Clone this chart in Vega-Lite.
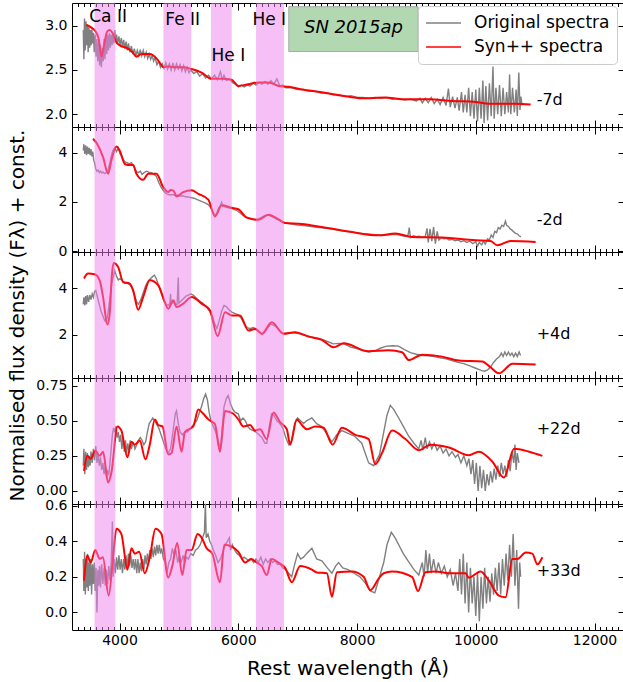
{
"$schema": "https://vega.github.io/schema/vega-lite/v6.json",
"padding": {"left": 6, "top": 2, "right": 1, "bottom": 0},
"background": "white",
"spacing": 0,
"bounds": "flush",
"config": {"font": "DejaVu Sans", "view": {"stroke": "black", "strokeWidth": 1},
  "axis": {"domain": false, "grid": false, "tickColor": "black", "labelColor": "black", "labelFontSize": 14, "labelFont": "DejaVu Sans", "titleFont": "DejaVu Sans", "titleFontWeight": "normal", "titleColor": "black", "titleFontSize": 20, "labelOverlap": false, "labelBound": false, "labelFlush": false}},
"resolve": {"scale": {"color": "independent"}, "legend": {"color": "independent"}},
"datasets": {
"bands": [{"a":3580,"b":3930},{"a":4740,"b":5210},{"a":5540,"b":5890},{"a":6300,"b":6770}],
"o1": [{"w":3390,"f":2.95},{"w":3400,"f":2.62},{"w":3410,"f":3.08},{"w":3422,"f":2.72},{"w":3435,"f":3.05},{"w":3448,"f":2.78},{"w":3460,"f":3.0},{"w":3472,"f":2.7},{"w":3485,"f":2.98},{"w":3498,"f":2.75},{"w":3510,"f":2.95},{"w":3522,"f":2.78},{"w":3535,"f":2.96},{"w":3548,"f":2.8},{"w":3560,"f":2.92},{"w":3575,"f":2.7},{"w":3590,"f":2.9},{"w":3605,"f":2.65},{"w":3620,"f":2.85},{"w":3635,"f":2.6},{"w":3650,"f":2.82},{"w":3665,"f":2.55},{"w":3680,"f":2.78},{"w":3695,"f":2.53},{"w":3710,"f":2.75},{"w":3725,"f":2.6},{"w":3740,"f":2.85},{"w":3755,"f":2.62},{"w":3770,"f":2.88},{"w":3785,"f":2.68},{"w":3800,"f":2.9},{"w":3815,"f":2.72},{"w":3830,"f":2.92},{"w":3845,"f":2.75},{"w":3860,"f":2.9},{"w":3875,"f":2.78},{"w":3890,"f":2.92},{"w":3905,"f":2.8},{"w":3920,"f":2.95},{"w":3935,"f":2.82},{"w":3950,"f":2.9},{"w":3970,"f":2.8},{"w":3990,"f":2.88},{"w":4010,"f":2.78},{"w":4030,"f":2.86},{"w":4050,"f":2.76},{"w":4070,"f":2.84},{"w":4090,"f":2.74},{"w":4110,"f":2.82},{"w":4130,"f":2.72},{"w":4150,"f":2.8},{"w":4175,"f":2.7},{"w":4200,"f":2.77},{"w":4225,"f":2.68},{"w":4250,"f":2.74},{"w":4275,"f":2.66},{"w":4300,"f":2.72},{"w":4325,"f":2.66},{"w":4350,"f":2.73},{"w":4375,"f":2.66},{"w":4400,"f":2.72},{"w":4425,"f":2.65},{"w":4450,"f":2.7},{"w":4475,"f":2.63},{"w":4500,"f":2.68},{"w":4525,"f":2.62},{"w":4550,"f":2.66},{"w":4575,"f":2.6},{"w":4600,"f":2.64},{"w":4630,"f":2.56},{"w":4660,"f":2.6},{"w":4690,"f":2.53},{"w":4720,"f":2.57},{"w":4750,"f":2.52},{"w":4780,"f":2.58},{"w":4810,"f":2.51},{"w":4840,"f":2.57},{"w":4870,"f":2.5},{"w":4900,"f":2.58},{"w":4930,"f":2.5},{"w":4960,"f":2.57},{"w":4990,"f":2.51},{"w":5020,"f":2.56},{"w":5050,"f":2.49},{"w":5080,"f":2.55},{"w":5110,"f":2.48},{"w":5140,"f":2.53},{"w":5170,"f":2.47},{"w":5200,"f":2.5},{"w":5250,"f":2.46},{"w":5300,"f":2.48},{"w":5350,"f":2.43},{"w":5400,"f":2.46},{"w":5450,"f":2.41},{"w":5500,"f":2.44},{"w":5550,"f":2.4},{"w":5600,"f":2.44},{"w":5650,"f":2.39},{"w":5700,"f":2.48},{"w":5730,"f":2.39},{"w":5760,"f":2.44},{"w":5800,"f":2.38},{"w":5850,"f":2.4},{"w":5900,"f":2.36},{"w":5950,"f":2.34},{"w":6000,"f":2.31},{"w":6050,"f":2.33},{"w":6100,"f":2.31},{"w":6150,"f":2.33},{"w":6200,"f":2.32},{"w":6250,"f":2.35},{"w":6300,"f":2.33},{"w":6350,"f":2.36},{"w":6400,"f":2.34},{"w":6450,"f":2.37},{"w":6500,"f":2.34},{"w":6550,"f":2.38},{"w":6600,"f":2.34},{"w":6650,"f":2.4},{"w":6700,"f":2.32},{"w":6750,"f":2.33},{"w":6800,"f":2.3},{"w":6900,"f":2.3},{"w":7000,"f":2.28},{"w":7100,"f":2.28},{"w":7200,"f":2.26},{"w":7300,"f":2.26},{"w":7400,"f":2.24},{"w":7500,"f":2.24},{"w":7600,"f":2.22},{"w":7700,"f":2.22},{"w":7800,"f":2.2},{"w":7900,"f":2.21},{"w":8000,"f":2.19},{"w":8100,"f":2.19},{"w":8200,"f":2.18},{"w":8300,"f":2.19},{"w":8400,"f":2.18},{"w":8500,"f":2.19},{"w":8600,"f":2.17},{"w":8700,"f":2.18},{"w":8800,"f":2.16},{"w":8900,"f":2.17},{"w":9000,"f":2.15},{"w":9060,"f":2.18},{"w":9100,"f":2.13},{"w":9150,"f":2.18},{"w":9200,"f":2.13},{"w":9250,"f":2.19},{"w":9300,"f":2.12},{"w":9350,"f":2.17},{"w":9400,"f":2.11},{"w":9450,"f":2.19},{"w":9500,"f":2.1},{"w":9540,"f":2.29},{"w":9570,"f":2.08},{"w":9610,"f":2.2},{"w":9650,"f":2.07},{"w":9690,"f":2.19},{"w":9720,"f":2.04},{"w":9760,"f":2.25},{"w":9790,"f":2.02},{"w":9820,"f":2.22},{"w":9850,"f":2.02},{"w":9880,"f":2.3},{"w":9910,"f":1.98},{"w":9940,"f":2.25},{"w":9970,"f":1.95},{"w":10000,"f":2.28},{"w":10030,"f":1.92},{"w":10060,"f":2.3},{"w":10090,"f":1.95},{"w":10120,"f":2.38},{"w":10140,"f":1.9},{"w":10170,"f":2.32},{"w":10200,"f":1.93},{"w":10230,"f":2.35},{"w":10260,"f":1.98},{"w":10290,"f":2.54},{"w":10310,"f":1.95},{"w":10340,"f":2.3},{"w":10370,"f":2.0},{"w":10400,"f":2.33},{"w":10430,"f":1.98},{"w":10460,"f":2.3},{"w":10490,"f":2.0},{"w":10520,"f":2.25},{"w":10550,"f":2.02},{"w":10570,"f":2.45},{"w":10590,"f":2.0},{"w":10620,"f":2.3},{"w":10650,"f":2.02},{"w":10680,"f":2.28},{"w":10700,"f":1.98},{"w":10725,"f":2.47},{"w":10745,"f":2.05},{"w":10760,"f":2.2},{"w":10780,"f":2.1}],
"s1": [{"w":3440,"f":3.01},{"w":3520,"f":2.98},{"w":3600,"f":2.93},{"w":3650,"f":2.85},{"w":3697,"f":2.65},{"w":3740,"f":2.78},{"w":3790,"f":2.93},{"w":3835,"f":2.95},{"w":3880,"f":2.92},{"w":3948,"f":2.81},{"w":4000,"f":2.78},{"w":4145,"f":2.74},{"w":4220,"f":2.7},{"w":4285,"f":2.65},{"w":4370,"f":2.68},{"w":4510,"f":2.68},{"w":4623,"f":2.63},{"w":4700,"f":2.56},{"w":4736,"f":2.53},{"w":4820,"f":2.54},{"w":4932,"f":2.53},{"w":5074,"f":2.53},{"w":5214,"f":2.51},{"w":5383,"f":2.47},{"w":5552,"f":2.4},{"w":5720,"f":2.4},{"w":5889,"f":2.39},{"w":5950,"f":2.35},{"w":6002,"f":2.32},{"w":6171,"f":2.34},{"w":6340,"f":2.36},{"w":6509,"f":2.36},{"w":6677,"f":2.32},{"w":6846,"f":2.31},{"w":7071,"f":2.28},{"w":7408,"f":2.25},{"w":7746,"f":2.21},{"w":8083,"f":2.18},{"w":8472,"f":2.19},{"w":8758,"f":2.17},{"w":9209,"f":2.17},{"w":9603,"f":2.15},{"w":9996,"f":2.14},{"w":10222,"f":2.12},{"w":10671,"f":2.12},{"w":10924,"f":2.11}],
"o2": [{"w":3390,"f":4.1},{"w":3400,"f":4.35},{"w":3415,"f":3.95},{"w":3430,"f":4.3},{"w":3445,"f":3.9},{"w":3460,"f":4.25},{"w":3475,"f":3.95},{"w":3490,"f":4.2},{"w":3505,"f":3.9},{"w":3520,"f":4.15},{"w":3535,"f":3.85},{"w":3550,"f":4.05},{"w":3565,"f":3.7},{"w":3580,"f":3.6},{"w":3600,"f":3.35},{"w":3620,"f":3.25},{"w":3640,"f":3.3},{"w":3660,"f":3.2},{"w":3680,"f":3.25},{"w":3700,"f":3.18},{"w":3720,"f":3.22},{"w":3750,"f":3.15},{"w":3780,"f":3.2},{"w":3800,"f":3.25},{"w":3830,"f":3.5},{"w":3860,"f":3.85},{"w":3890,"f":4.1},{"w":3920,"f":4.2},{"w":3950,"f":4.05},{"w":3980,"f":4.2},{"w":4010,"f":3.95},{"w":4040,"f":3.85},{"w":4070,"f":3.7},{"w":4100,"f":3.62},{"w":4130,"f":3.6},{"w":4160,"f":3.55},{"w":4200,"f":3.6},{"w":4230,"f":3.5},{"w":4260,"f":3.35},{"w":4290,"f":3.22},{"w":4320,"f":3.2},{"w":4350,"f":3.25},{"w":4380,"f":3.12},{"w":4420,"f":3.2},{"w":4460,"f":3.25},{"w":4500,"f":3.2},{"w":4540,"f":3.18},{"w":4580,"f":3.12},{"w":4620,"f":3.05},{"w":4660,"f":2.8},{"w":4700,"f":2.6},{"w":4740,"f":2.45},{"w":4780,"f":2.35},{"w":4820,"f":2.3},{"w":4860,"f":2.28},{"w":4900,"f":2.3},{"w":4940,"f":2.25},{"w":4980,"f":2.28},{"w":5020,"f":2.24},{"w":5060,"f":2.25},{"w":5100,"f":2.22},{"w":5150,"f":2.2},{"w":5200,"f":2.18},{"w":5250,"f":2.15},{"w":5300,"f":2.1},{"w":5350,"f":2.05},{"w":5400,"f":2.0},{"w":5450,"f":1.95},{"w":5500,"f":1.88},{"w":5540,"f":1.75},{"w":5580,"f":1.55},{"w":5610,"f":1.45},{"w":5640,"f":1.55},{"w":5670,"f":1.75},{"w":5700,"f":1.85},{"w":5720,"f":1.98},{"w":5740,"f":1.82},{"w":5780,"f":1.8},{"w":5830,"f":1.76},{"w":5880,"f":1.75},{"w":5930,"f":1.7},{"w":5980,"f":1.64},{"w":6030,"f":1.55},{"w":6080,"f":1.45},{"w":6120,"f":1.38},{"w":6170,"f":1.36},{"w":6220,"f":1.32},{"w":6280,"f":1.28},{"w":6330,"f":1.3},{"w":6400,"f":1.38},{"w":6450,"f":1.45},{"w":6500,"f":1.46},{"w":6550,"f":1.42},{"w":6600,"f":1.36},{"w":6650,"f":1.3},{"w":6700,"f":1.24},{"w":6750,"f":1.18},{"w":6800,"f":1.14},{"w":6900,"f":1.1},{"w":7000,"f":1.06},{"w":7100,"f":1.04},{"w":7200,"f":1.01},{"w":7300,"f":0.98},{"w":7400,"f":0.95},{"w":7500,"f":0.92},{"w":7600,"f":0.88},{"w":7700,"f":0.84},{"w":7800,"f":0.8},{"w":7900,"f":0.77},{"w":8000,"f":0.74},{"w":8100,"f":0.71},{"w":8200,"f":0.68},{"w":8300,"f":0.66},{"w":8400,"f":0.64},{"w":8500,"f":0.65},{"w":8600,"f":0.68},{"w":8700,"f":0.66},{"w":8800,"f":0.6},{"w":8860,"f":0.65},{"w":8880,"f":0.95},{"w":8900,"f":0.55},{"w":8950,"f":0.62},{"w":9000,"f":0.58},{"w":9050,"f":0.6},{"w":9100,"f":0.55},{"w":9150,"f":0.6},{"w":9180,"f":0.92},{"w":9200,"f":0.35},{"w":9230,"f":0.9},{"w":9260,"f":0.4},{"w":9290,"f":0.98},{"w":9320,"f":0.3},{"w":9350,"f":0.8},{"w":9380,"f":0.45},{"w":9420,"f":0.55},{"w":9460,"f":0.5},{"w":9500,"f":0.52},{"w":9550,"f":0.45},{"w":9600,"f":0.48},{"w":9650,"f":0.42},{"w":9700,"f":0.45},{"w":9750,"f":0.38},{"w":9800,"f":0.42},{"w":9850,"f":0.35},{"w":9900,"f":0.4},{"w":9950,"f":0.3},{"w":10000,"f":0.38},{"w":10030,"f":0.2},{"w":10060,"f":0.35},{"w":10100,"f":0.25},{"w":10130,"f":0.4},{"w":10160,"f":0.28},{"w":10200,"f":0.5},{"w":10230,"f":0.45},{"w":10260,"f":0.65},{"w":10290,"f":0.55},{"w":10320,"f":0.8},{"w":10350,"f":0.75},{"w":10380,"f":0.95},{"w":10410,"f":0.9},{"w":10440,"f":1.05},{"w":10470,"f":1.0},{"w":10500,"f":1.22},{"w":10520,"f":1.05},{"w":10550,"f":1.0},{"w":10580,"f":0.9},{"w":10610,"f":0.85},{"w":10640,"f":0.78},{"w":10670,"f":0.72},{"w":10700,"f":0.7},{"w":10730,"f":0.62},{"w":10760,"f":0.58}],
"s2": [{"w":3554,"f":4.57},{"w":3639,"f":4.3},{"w":3723,"f":3.82},{"w":3808,"f":3.15},{"w":3863,"f":3.69},{"w":3948,"f":4.26},{"w":4003,"f":4.09},{"w":4088,"f":3.55},{"w":4145,"f":3.5},{"w":4229,"f":3.5},{"w":4285,"f":3.15},{"w":4398,"f":2.9},{"w":4483,"f":3.15},{"w":4623,"f":3.15},{"w":4736,"f":2.6},{"w":4820,"f":2.4},{"w":4860,"f":2.48},{"w":4905,"f":2.47},{"w":4961,"f":2.22},{"w":5074,"f":2.4},{"w":5214,"f":2.47},{"w":5327,"f":2.33},{"w":5496,"f":2.09},{"w":5608,"f":1.41},{"w":5720,"f":1.86},{"w":5889,"f":1.76},{"w":6002,"f":1.7},{"w":6143,"f":1.36},{"w":6340,"f":1.27},{"w":6509,"f":1.48},{"w":6677,"f":1.29},{"w":6790,"f":1.14},{"w":7071,"f":1.1},{"w":7408,"f":0.98},{"w":7915,"f":0.77},{"w":8365,"f":0.64},{"w":8646,"f":0.71},{"w":8927,"f":0.57},{"w":9434,"f":0.55},{"w":9996,"f":0.44},{"w":10249,"f":0.41},{"w":10362,"f":0.23},{"w":10587,"f":0.41},{"w":11009,"f":0.37}],
"o3": [{"w":3390,"f":3.3},{"w":3400,"f":3.6},{"w":3415,"f":3.25},{"w":3430,"f":3.65},{"w":3445,"f":3.3},{"w":3460,"f":3.7},{"w":3480,"f":3.4},{"w":3500,"f":3.7},{"w":3520,"f":3.5},{"w":3540,"f":3.75},{"w":3560,"f":3.6},{"w":3580,"f":3.85},{"w":3600,"f":3.9},{"w":3620,"f":3.7},{"w":3640,"f":3.5},{"w":3660,"f":3.3},{"w":3690,"f":3.0},{"w":3720,"f":2.8},{"w":3750,"f":2.6},{"w":3770,"f":2.55},{"w":3790,"f":2.7},{"w":3810,"f":3.0},{"w":3840,"f":3.6},{"w":3870,"f":4.2},{"w":3900,"f":4.55},{"w":3920,"f":4.75},{"w":3950,"f":4.5},{"w":3980,"f":4.35},{"w":4010,"f":4.4},{"w":4050,"f":4.3},{"w":4090,"f":4.2},{"w":4130,"f":4.2},{"w":4170,"f":4.15},{"w":4210,"f":4.0},{"w":4250,"f":3.7},{"w":4290,"f":3.4},{"w":4320,"f":3.3},{"w":4360,"f":3.5},{"w":4400,"f":3.8},{"w":4440,"f":4.1},{"w":4480,"f":4.3},{"w":4520,"f":4.4},{"w":4560,"f":4.5},{"w":4590,"f":4.55},{"w":4620,"f":4.4},{"w":4660,"f":4.1},{"w":4700,"f":3.8},{"w":4740,"f":3.5},{"w":4780,"f":3.3},{"w":4820,"f":3.25},{"w":4850,"f":3.35},{"w":4860,"f":3.75},{"w":4870,"f":3.3},{"w":4900,"f":3.4},{"w":4940,"f":3.3},{"w":4970,"f":3.3},{"w":4990,"f":4.45},{"w":5000,"f":3.35},{"w":5040,"f":3.45},{"w":5080,"f":3.55},{"w":5120,"f":3.65},{"w":5160,"f":3.7},{"w":5200,"f":3.75},{"w":5240,"f":3.7},{"w":5280,"f":3.6},{"w":5320,"f":3.5},{"w":5360,"f":3.42},{"w":5400,"f":3.35},{"w":5440,"f":3.25},{"w":5480,"f":3.15},{"w":5520,"f":3.0},{"w":5560,"f":2.8},{"w":5600,"f":2.5},{"w":5640,"f":2.25},{"w":5680,"f":2.6},{"w":5720,"f":3.0},{"w":5760,"f":3.25},{"w":5800,"f":3.2},{"w":5850,"f":3.05},{"w":5900,"f":2.95},{"w":5950,"f":2.9},{"w":6000,"f":2.85},{"w":6050,"f":2.7},{"w":6100,"f":2.45},{"w":6150,"f":2.3},{"w":6200,"f":2.25},{"w":6250,"f":2.3},{"w":6300,"f":2.25},{"w":6350,"f":2.15},{"w":6400,"f":2.0},{"w":6450,"f":2.1},{"w":6500,"f":2.3},{"w":6550,"f":2.45},{"w":6600,"f":2.4},{"w":6650,"f":2.3},{"w":6700,"f":2.15},{"w":6750,"f":2.05},{"w":6800,"f":2.05},{"w":6900,"f":2.08},{"w":7000,"f":2.05},{"w":7100,"f":1.98},{"w":7200,"f":1.92},{"w":7300,"f":1.85},{"w":7400,"f":1.8},{"w":7500,"f":1.7},{"w":7600,"f":1.6},{"w":7700,"f":1.62},{"w":7800,"f":1.58},{"w":7900,"f":1.45},{"w":8000,"f":1.4},{"w":8100,"f":1.3},{"w":8200,"f":1.25},{"w":8300,"f":1.3},{"w":8400,"f":1.42},{"w":8500,"f":1.5},{"w":8600,"f":1.52},{"w":8700,"f":1.5},{"w":8800,"f":1.35},{"w":8900,"f":1.22},{"w":9000,"f":1.15},{"w":9100,"f":1.1},{"w":9200,"f":1.08},{"w":9300,"f":1.05},{"w":9400,"f":1.0},{"w":9500,"f":0.95},{"w":9600,"f":0.88},{"w":9700,"f":0.8},{"w":9800,"f":0.75},{"w":9900,"f":0.65},{"w":10000,"f":0.55},{"w":10050,"f":0.5},{"w":10100,"f":0.45},{"w":10150,"f":0.42},{"w":10200,"f":0.48},{"w":10250,"f":0.6},{"w":10300,"f":0.8},{"w":10350,"f":0.95},{"w":10400,"f":1.05},{"w":10430,"f":1.2},{"w":10460,"f":1.05},{"w":10490,"f":1.25},{"w":10520,"f":1.1},{"w":10550,"f":1.25},{"w":10580,"f":1.1},{"w":10610,"f":1.2},{"w":10640,"f":1.05},{"w":10670,"f":1.2},{"w":10700,"f":1.05},{"w":10730,"f":1.25},{"w":10755,"f":1.1}],
"s3": [{"w":3402,"f":4.41},{"w":3470,"f":4.62},{"w":3582,"f":4.59},{"w":3666,"f":4.33},{"w":3723,"f":3.61},{"w":3796,"f":2.43},{"w":3835,"f":2.89},{"w":3870,"f":4.5},{"w":3900,"f":5.08},{"w":3977,"f":4.91},{"w":4061,"f":4.26},{"w":4173,"f":4.19},{"w":4229,"f":3.91},{"w":4314,"f":3.07},{"w":4398,"f":3.61},{"w":4510,"f":4.33},{"w":4652,"f":4.12},{"w":4763,"f":3.4},{"w":4820,"f":3.11},{"w":4905,"f":3.47},{"w":4961,"f":3.18},{"w":5074,"f":3.33},{"w":5214,"f":3.61},{"w":5383,"f":3.33},{"w":5523,"f":3.04},{"w":5653,"f":1.93},{"w":5777,"f":2.96},{"w":5889,"f":2.82},{"w":6029,"f":2.82},{"w":6171,"f":2.17},{"w":6283,"f":2.24},{"w":6396,"f":2.03},{"w":6565,"f":2.53},{"w":6762,"f":2.03},{"w":6958,"f":2.1},{"w":7184,"f":1.91},{"w":7408,"f":1.77},{"w":7606,"f":1.45},{"w":7774,"f":1.62},{"w":8196,"f":1.28},{"w":8533,"f":1.32},{"w":8758,"f":1.24},{"w":8872,"f":0.9},{"w":9096,"f":1.13},{"w":9434,"f":1.05},{"w":9716,"f":0.88},{"w":10109,"f":0.84},{"w":10249,"f":0.59},{"w":10391,"f":0.33},{"w":10616,"f":0.74},{"w":11009,"f":0.71}],
"o4": [{"w":3390,"f":0.18},{"w":3400,"f":0.3},{"w":3415,"f":0.12},{"w":3430,"f":0.28},{"w":3445,"f":0.15},{"w":3460,"f":0.27},{"w":3475,"f":0.17},{"w":3490,"f":0.25},{"w":3505,"f":0.18},{"w":3520,"f":0.28},{"w":3540,"f":0.2},{"w":3560,"f":0.3},{"w":3580,"f":0.22},{"w":3600,"f":0.32},{"w":3620,"f":0.2},{"w":3640,"f":0.26},{"w":3660,"f":0.18},{"w":3680,"f":0.24},{"w":3700,"f":0.15},{"w":3720,"f":0.2},{"w":3740,"f":0.12},{"w":3760,"f":0.18},{"w":3780,"f":0.1},{"w":3800,"f":0.14},{"w":3820,"f":0.12},{"w":3840,"f":0.2},{"w":3860,"f":0.3},{"w":3880,"f":0.4},{"w":3900,"f":0.45},{"w":3920,"f":0.42},{"w":3940,"f":0.46},{"w":3960,"f":0.38},{"w":3980,"f":0.42},{"w":4000,"f":0.35},{"w":4020,"f":0.4},{"w":4040,"f":0.3},{"w":4060,"f":0.38},{"w":4080,"f":0.28},{"w":4100,"f":0.36},{"w":4120,"f":0.27},{"w":4140,"f":0.34},{"w":4160,"f":0.28},{"w":4180,"f":0.36},{"w":4200,"f":0.3},{"w":4230,"f":0.35},{"w":4260,"f":0.3},{"w":4290,"f":0.33},{"w":4320,"f":0.36},{"w":4350,"f":0.38},{"w":4380,"f":0.36},{"w":4410,"f":0.33},{"w":4440,"f":0.35},{"w":4470,"f":0.42},{"w":4500,"f":0.48},{"w":4530,"f":0.5},{"w":4560,"f":0.52},{"w":4590,"f":0.5},{"w":4620,"f":0.48},{"w":4660,"f":0.45},{"w":4700,"f":0.4},{"w":4740,"f":0.35},{"w":4780,"f":0.3},{"w":4820,"f":0.27},{"w":4860,"f":0.3},{"w":4900,"f":0.42},{"w":4940,"f":0.55},{"w":4960,"f":0.57},{"w":4990,"f":0.48},{"w":5020,"f":0.42},{"w":5060,"f":0.4},{"w":5100,"f":0.42},{"w":5140,"f":0.42},{"w":5180,"f":0.44},{"w":5220,"f":0.46},{"w":5260,"f":0.48},{"w":5300,"f":0.5},{"w":5340,"f":0.55},{"w":5380,"f":0.6},{"w":5420,"f":0.66},{"w":5450,"f":0.69},{"w":5480,"f":0.65},{"w":5510,"f":0.56},{"w":5540,"f":0.5},{"w":5580,"f":0.46},{"w":5620,"f":0.42},{"w":5660,"f":0.36},{"w":5700,"f":0.3},{"w":5730,"f":0.45},{"w":5760,"f":0.6},{"w":5800,"f":0.66},{"w":5830,"f":0.68},{"w":5870,"f":0.62},{"w":5910,"f":0.58},{"w":5950,"f":0.56},{"w":6000,"f":0.55},{"w":6040,"f":0.5},{"w":6080,"f":0.52},{"w":6120,"f":0.5},{"w":6160,"f":0.46},{"w":6200,"f":0.44},{"w":6250,"f":0.43},{"w":6300,"f":0.42},{"w":6350,"f":0.4},{"w":6400,"f":0.38},{"w":6450,"f":0.34},{"w":6480,"f":0.34},{"w":6520,"f":0.45},{"w":6560,"f":0.55},{"w":6600,"f":0.54},{"w":6650,"f":0.5},{"w":6700,"f":0.48},{"w":6750,"f":0.45},{"w":6800,"f":0.38},{"w":6850,"f":0.33},{"w":6900,"f":0.36},{"w":6950,"f":0.48},{"w":7000,"f":0.52},{"w":7050,"f":0.5},{"w":7100,"f":0.48},{"w":7150,"f":0.5},{"w":7240,"f":0.52},{"w":7320,"f":0.48},{"w":7408,"f":0.46},{"w":7500,"f":0.4},{"w":7577,"f":0.35},{"w":7660,"f":0.4},{"w":7746,"f":0.43},{"w":7850,"f":0.41},{"w":7960,"f":0.39},{"w":8080,"f":0.34},{"w":8196,"f":0.2},{"w":8280,"f":0.18},{"w":8380,"f":0.26},{"w":8450,"f":0.42},{"w":8505,"f":0.54},{"w":8561,"f":0.61},{"w":8620,"f":0.58},{"w":8702,"f":0.52},{"w":8780,"f":0.46},{"w":8871,"f":0.39},{"w":8960,"f":0.34},{"w":9040,"f":0.3},{"w":9080,"f":0.36},{"w":9110,"f":0.29},{"w":9150,"f":0.38},{"w":9180,"f":0.3},{"w":9220,"f":0.35},{"w":9260,"f":0.3},{"w":9300,"f":0.34},{"w":9350,"f":0.29},{"w":9400,"f":0.32},{"w":9450,"f":0.27},{"w":9500,"f":0.3},{"w":9550,"f":0.25},{"w":9600,"f":0.28},{"w":9659,"f":0.24},{"w":9700,"f":0.26},{"w":9750,"f":0.2},{"w":9800,"f":0.25},{"w":9850,"f":0.18},{"w":9884,"f":0.23},{"w":9920,"f":0.12},{"w":9950,"f":0.22},{"w":9980,"f":0.05},{"w":10010,"f":0.2},{"w":10040,"f":0.0},{"w":10070,"f":0.18},{"w":10100,"f":0.02},{"w":10130,"f":0.15},{"w":10160,"f":0.0},{"w":10190,"f":0.12},{"w":10220,"f":0.04},{"w":10250,"f":0.14},{"w":10280,"f":0.06},{"w":10310,"f":0.16},{"w":10340,"f":0.08},{"w":10370,"f":0.18},{"w":10400,"f":0.1},{"w":10430,"f":0.2},{"w":10460,"f":0.12},{"w":10490,"f":0.18},{"w":10520,"f":0.1},{"w":10550,"f":0.22},{"w":10580,"f":0.14},{"w":10610,"f":0.28},{"w":10640,"f":0.2},{"w":10660,"f":0.33},{"w":10680,"f":0.15},{"w":10700,"f":0.27},{"w":10728,"f":0.2}],
"s4": [{"w":3402,"f":0.143},{"w":3458,"f":0.25},{"w":3514,"f":0.23},{"w":3593,"f":0.286},{"w":3666,"f":0.25},{"w":3723,"f":0.28},{"w":3808,"f":0.06},{"w":3863,"f":0.13},{"w":3965,"f":0.46},{"w":4032,"f":0.43},{"w":4133,"f":0.24},{"w":4201,"f":0.35},{"w":4257,"f":0.33},{"w":4341,"f":0.36},{"w":4437,"f":0.226},{"w":4510,"f":0.33},{"w":4595,"f":0.51},{"w":4652,"f":0.47},{"w":4724,"f":0.46},{"w":4820,"f":0.26},{"w":4876,"f":0.27},{"w":4961,"f":0.46},{"w":5045,"f":0.28},{"w":5101,"f":0.42},{"w":5242,"f":0.46},{"w":5327,"f":0.58},{"w":5411,"f":0.55},{"w":5496,"f":0.51},{"w":5608,"f":0.476},{"w":5692,"f":0.28},{"w":5777,"f":0.57},{"w":5917,"f":0.55},{"w":6002,"f":0.51},{"w":6087,"f":0.46},{"w":6198,"f":0.47},{"w":6283,"f":0.43},{"w":6367,"f":0.44},{"w":6480,"f":0.37},{"w":6593,"f":0.56},{"w":6705,"f":0.49},{"w":6818,"f":0.44},{"w":6874,"f":0.33},{"w":6986,"f":0.51},{"w":7071,"f":0.47},{"w":7155,"f":0.44},{"w":7296,"f":0.46},{"w":7437,"f":0.45},{"w":7589,"f":0.33},{"w":7746,"f":0.45},{"w":7971,"f":0.4},{"w":8196,"f":0.37},{"w":8308,"f":0.19},{"w":8421,"f":0.27},{"w":8590,"f":0.43},{"w":8815,"f":0.37},{"w":9040,"f":0.29},{"w":9237,"f":0.33},{"w":9547,"f":0.31},{"w":9884,"f":0.255},{"w":10053,"f":0.28},{"w":10278,"f":0.21},{"w":10475,"f":0.095},{"w":10644,"f":0.3},{"w":10897,"f":0.28},{"w":11122,"f":0.25}],
"o5": [{"w":3390,"f":0.3},{"w":3400,"f":0.12},{"w":3412,"f":0.34},{"w":3425,"f":0.1},{"w":3438,"f":0.3},{"w":3450,"f":0.14},{"w":3462,"f":0.33},{"w":3475,"f":0.12},{"w":3488,"f":0.28},{"w":3500,"f":0.15},{"w":3515,"f":0.3},{"w":3530,"f":0.1},{"w":3545,"f":0.27},{"w":3560,"f":0.16},{"w":3575,"f":0.28},{"w":3590,"f":0.12},{"w":3605,"f":0.25},{"w":3620,"f":0.0},{"w":3635,"f":0.24},{"w":3650,"f":0.15},{"w":3665,"f":0.26},{"w":3680,"f":0.14},{"w":3700,"f":0.27},{"w":3720,"f":0.16},{"w":3740,"f":0.25},{"w":3760,"f":0.15},{"w":3780,"f":0.24},{"w":3800,"f":0.16},{"w":3820,"f":0.26},{"w":3840,"f":0.18},{"w":3860,"f":0.28},{"w":3880,"f":0.51},{"w":3895,"f":0.2},{"w":3910,"f":0.3},{"w":3930,"f":0.22},{"w":3950,"f":0.31},{"w":3970,"f":0.24},{"w":3990,"f":0.32},{"w":4010,"f":0.24},{"w":4030,"f":0.3},{"w":4050,"f":0.22},{"w":4070,"f":0.3},{"w":4090,"f":0.24},{"w":4110,"f":0.32},{"w":4130,"f":0.25},{"w":4150,"f":0.33},{"w":4170,"f":0.26},{"w":4190,"f":0.32},{"w":4210,"f":0.25},{"w":4230,"f":0.3},{"w":4250,"f":0.24},{"w":4270,"f":0.3},{"w":4290,"f":0.22},{"w":4310,"f":0.3},{"w":4330,"f":0.22},{"w":4350,"f":0.28},{"w":4370,"f":0.23},{"w":4390,"f":0.3},{"w":4410,"f":0.24},{"w":4430,"f":0.32},{"w":4450,"f":0.27},{"w":4470,"f":0.33},{"w":4490,"f":0.28},{"w":4510,"f":0.35},{"w":4530,"f":0.3},{"w":4550,"f":0.36},{"w":4570,"f":0.31},{"w":4590,"f":0.37},{"w":4610,"f":0.32},{"w":4630,"f":0.38},{"w":4650,"f":0.33},{"w":4670,"f":0.38},{"w":4690,"f":0.33},{"w":4710,"f":0.36},{"w":4740,"f":0.3},{"w":4770,"f":0.28},{"w":4800,"f":0.22},{"w":4830,"f":0.28},{"w":4860,"f":0.3},{"w":4890,"f":0.36},{"w":4920,"f":0.32},{"w":4950,"f":0.35},{"w":4980,"f":0.28},{"w":5010,"f":0.32},{"w":5040,"f":0.28},{"w":5070,"f":0.32},{"w":5100,"f":0.28},{"w":5130,"f":0.31},{"w":5160,"f":0.3},{"w":5200,"f":0.33},{"w":5240,"f":0.32},{"w":5280,"f":0.35},{"w":5320,"f":0.36},{"w":5360,"f":0.38},{"w":5400,"f":0.42},{"w":5430,"f":0.45},{"w":5447,"f":0.61},{"w":5460,"f":0.42},{"w":5490,"f":0.44},{"w":5520,"f":0.4},{"w":5550,"f":0.38},{"w":5580,"f":0.35},{"w":5620,"f":0.32},{"w":5660,"f":0.28},{"w":5700,"f":0.3},{"w":5740,"f":0.34},{"w":5780,"f":0.38},{"w":5820,"f":0.4},{"w":5850,"f":0.42},{"w":5870,"f":0.35},{"w":5900,"f":0.38},{"w":5940,"f":0.35},{"w":5980,"f":0.33},{"w":6020,"f":0.32},{"w":6060,"f":0.3},{"w":6100,"f":0.31},{"w":6140,"f":0.3},{"w":6180,"f":0.29},{"w":6220,"f":0.3},{"w":6260,"f":0.28},{"w":6300,"f":0.3},{"w":6340,"f":0.28},{"w":6380,"f":0.31},{"w":6420,"f":0.27},{"w":6460,"f":0.3},{"w":6500,"f":0.28},{"w":6540,"f":0.3},{"w":6580,"f":0.28},{"w":6620,"f":0.29},{"w":6660,"f":0.27},{"w":6700,"f":0.27},{"w":6750,"f":0.25},{"w":6800,"f":0.24},{"w":6850,"f":0.22},{"w":6900,"f":0.2},{"w":6950,"f":0.27},{"w":7000,"f":0.33},{"w":7050,"f":0.3},{"w":7100,"f":0.31},{"w":7150,"f":0.33},{"w":7240,"f":0.36},{"w":7320,"f":0.3},{"w":7408,"f":0.29},{"w":7500,"f":0.25},{"w":7577,"f":0.22},{"w":7640,"f":0.26},{"w":7690,"f":0.28},{"w":7760,"f":0.25},{"w":7850,"f":0.24},{"w":7950,"f":0.22},{"w":8050,"f":0.2},{"w":8150,"f":0.16},{"w":8224,"f":0.12},{"w":8300,"f":0.11},{"w":8380,"f":0.2},{"w":8450,"f":0.28},{"w":8505,"f":0.38},{"w":8578,"f":0.45},{"w":8640,"f":0.42},{"w":8702,"f":0.38},{"w":8780,"f":0.33},{"w":8860,"f":0.29},{"w":8960,"f":0.24},{"w":9040,"f":0.21},{"w":9100,"f":0.28},{"w":9130,"f":0.2},{"w":9160,"f":0.35},{"w":9190,"f":0.22},{"w":9220,"f":0.33},{"w":9250,"f":0.22},{"w":9290,"f":0.3},{"w":9330,"f":0.22},{"w":9370,"f":0.28},{"w":9420,"f":0.22},{"w":9470,"f":0.26},{"w":9520,"f":0.2},{"w":9570,"f":0.24},{"w":9620,"f":0.15},{"w":9659,"f":0.22},{"w":9700,"f":0.12},{"w":9730,"f":0.3},{"w":9760,"f":0.1},{"w":9790,"f":0.33},{"w":9820,"f":0.05},{"w":9850,"f":0.28},{"w":9880,"f":0.0},{"w":9910,"f":0.25},{"w":9940,"f":0.05},{"w":9970,"f":0.2},{"w":10000,"f":-0.02},{"w":10030,"f":0.22},{"w":10060,"f":-0.05},{"w":10090,"f":0.2},{"w":10120,"f":0.02},{"w":10150,"f":0.25},{"w":10180,"f":0.05},{"w":10210,"f":0.2},{"w":10240,"f":0.06},{"w":10270,"f":0.22},{"w":10300,"f":0.1},{"w":10330,"f":0.25},{"w":10360,"f":0.12},{"w":10390,"f":0.28},{"w":10420,"f":0.1},{"w":10450,"f":0.3},{"w":10480,"f":0.15},{"w":10510,"f":0.33},{"w":10540,"f":0.18},{"w":10570,"f":0.38},{"w":10600,"f":0.2},{"w":10630,"f":0.44},{"w":10660,"f":0.15},{"w":10690,"f":0.35},{"w":10720,"f":0.02},{"w":10740,"f":0.28},{"w":10756,"f":0.2}],
"s5": [{"w":3402,"f":0.178},{"w":3458,"f":0.32},{"w":3514,"f":0.28},{"w":3593,"f":0.35},{"w":3666,"f":0.3},{"w":3720,"f":0.31},{"w":3818,"f":0.094},{"w":3892,"f":0.31},{"w":3948,"f":0.47},{"w":4032,"f":0.44},{"w":4133,"f":0.24},{"w":4201,"f":0.36},{"w":4257,"f":0.33},{"w":4331,"f":0.34},{"w":4426,"f":0.22},{"w":4510,"f":0.31},{"w":4606,"f":0.47},{"w":4707,"f":0.44},{"w":4820,"f":0.196},{"w":4888,"f":0.26},{"w":4972,"f":0.39},{"w":5057,"f":0.21},{"w":5130,"f":0.35},{"w":5214,"f":0.35},{"w":5315,"f":0.44},{"w":5383,"f":0.42},{"w":5467,"f":0.36},{"w":5563,"f":0.33},{"w":5692,"f":0.17},{"w":5766,"f":0.38},{"w":5889,"f":0.37},{"w":6002,"f":0.34},{"w":6115,"f":0.28},{"w":6215,"f":0.3},{"w":6311,"f":0.28},{"w":6396,"f":0.26},{"w":6480,"f":0.21},{"w":6565,"f":0.3},{"w":6677,"f":0.28},{"w":6790,"f":0.25},{"w":6902,"f":0.17},{"w":7043,"f":0.26},{"w":7240,"f":0.24},{"w":7324,"f":0.224},{"w":7493,"f":0.22},{"w":7577,"f":0.088},{"w":7662,"f":0.225},{"w":7915,"f":0.23},{"w":8112,"f":0.2},{"w":8224,"f":0.125},{"w":8365,"f":0.19},{"w":8450,"f":0.22},{"w":8590,"f":0.23},{"w":8927,"f":0.2},{"w":9028,"f":0.12},{"w":9152,"f":0.225},{"w":9321,"f":0.23},{"w":9547,"f":0.22},{"w":9828,"f":0.22},{"w":9884,"f":0.195},{"w":10081,"f":0.23},{"w":10222,"f":0.178},{"w":10391,"f":0.094},{"w":10503,"f":0.085},{"w":10616,"f":0.3},{"w":10700,"f":0.3},{"w":10841,"f":0.336},{"w":10953,"f":0.33},{"w":11038,"f":0.27},{"w":11122,"f":0.31}]
},
"vconcat": [
{
 "width": 551, "height": 124,
 "resolve": {"axis": {"x": "independent", "y": "independent"}},
 "layer": [
  {"data": {"name": "o1"}, "mark": {"type": "line", "strokeWidth": 1.4},
   "encoding": {
    "x": {"field": "w", "type": "quantitative", "scale": {"domain": [3200, 12480], "nice": false, "zero": false},
      "axis": {"orient": "bottom", "labels": false, "title": null, "values": [3300,3400,3500,3600,3700,3800,3900,4000,4100,4200,4300,4400,4500,4600,4700,4800,4900,5000,5100,5200,5300,5400,5500,5600,5700,5800,5900,6000,6100,6200,6300,6400,6500,6600,6700,6800,6900,7000,7100,7200,7300,7400,7500,7600,7700,7800,7900,8000,8100,8200,8300,8400,8500,8600,8700,8800,8900,9000,9100,9200,9300,9400,9500,9600,9700,9800,9900,10000,10100,10200,10300,10400,10500,10600,10700,10800,10900,11000,11100,11200,11300,11400,11500,11600,11700,11800,11900,12000,12100,12200,12300,12400], "tickSize": {"condition": {"test": "datum.value % 2000 === 0", "value": -7}, "value": -3.5}}},
    "y": {"field": "f", "type": "quantitative", "scale": {"domain": [1.857, 3.255], "nice": false, "zero": false},
      "axis": {"orient": "left", "values": [2, 2.5, 3], "format": ".1f", "tickSize": -5, "labelPadding": 10, "title": null}},
    "color": {"datum": "Original spectra", "type": "nominal", "scale": {"domain": ["Original spectra", "Syn++ spectra"], "range": ["gray", "red"]},
      "legend": {"orient": "none", "legendX": 346, "legendY": 3, "title": null, "padding": 7, "fillColor": "white", "strokeColor": "#cccccc", "cornerRadius": 4, "labelFontSize": 17, "labelFont": "DejaVu Sans", "labelColor": "black", "symbolType": "stroke", "symbolSize": 1225, "symbolStrokeWidth": 1.5, "labelOffset": 12, "rowPadding": 4, "clipHeight": 20}}
   }},
  {"data": {"name": "s1"}, "mark": {"type": "line", "strokeWidth": 2, "interpolate": "monotone"},
   "encoding": {
    "x": {"field": "w", "type": "quantitative", "axis": {"orient": "top", "labels": false, "title": null, "values": [3300,3400,3500,3600,3700,3800,3900,4000,4100,4200,4300,4400,4500,4600,4700,4800,4900,5000,5100,5200,5300,5400,5500,5600,5700,5800,5900,6000,6100,6200,6300,6400,6500,6600,6700,6800,6900,7000,7100,7200,7300,7400,7500,7600,7700,7800,7900,8000,8100,8200,8300,8400,8500,8600,8700,8800,8900,9000,9100,9200,9300,9400,9500,9600,9700,9800,9900,10000,10100,10200,10300,10400,10500,10600,10700,10800,10900,11000,11100,11200,11300,11400,11500,11600,11700,11800,11900,12000,12100,12200,12300,12400], "tickSize": {"condition": {"test": "datum.value % 2000 === 0", "value": -7}, "value": -3.5}}},
    "y": {"field": "f", "type": "quantitative", "axis": {"orient": "right", "labels": false, "title": null, "values": [2, 2.5, 3], "tickSize": -5}},
    "color": {"datum": "Syn++ spectra", "type": "nominal"}
   }},
  {"data": {"name": "bands"}, "mark": {"type": "rect", "color": "violet", "opacity": 0.5},
   "encoding": {"x": {"field": "a", "type": "quantitative", "axis": null}, "x2": {"field": "b"}}},
  {"data": {"values": [{"a": 6851, "b": 9029, "lo": 2.708, "hi": 3.213}]}, "mark": {"type": "rect", "fill": "#b2d8b2", "stroke": "#a9a9a9", "strokeWidth": 1},
   "encoding": {"x": {"field": "a", "type": "quantitative", "axis": null}, "x2": {"field": "b"}, "y": {"field": "lo", "type": "quantitative", "axis": null}, "y2": {"field": "hi"}}},
  {"data": {"values": [{"t": "SN 2015ap", "w": 7940, "f": 2.975}]}, "mark": {"type": "text", "fontSize": 18, "fontStyle": "italic", "align": "center", "baseline": "middle", "color": "black"},
   "encoding": {"x": {"field": "w", "type": "quantitative", "axis": null}, "y": {"field": "f", "type": "quantitative", "axis": null}, "text": {"field": "t"}}},
  {"data": {"values": [{"t": "Ca II", "w": 3808, "f": 3.1}, {"t": "Fe II", "w": 5065, "f": 3.064}, {"t": "He I", "w": 5833, "f": 2.663}, {"t": "He I", "w": 6522, "f": 3.064}]}, "mark": {"type": "text", "fontSize": 17, "align": "center", "baseline": "middle", "color": "black"},
   "encoding": {"x": {"field": "w", "type": "quantitative", "axis": null}, "y": {"field": "f", "type": "quantitative", "axis": null}, "text": {"field": "t"}}},
  {"data": {"values": [{"t": "-7d", "w": 11026, "f": 2.165}]}, "mark": {"type": "text", "fontSize": 16, "align": "left", "baseline": "middle", "color": "black"},
   "encoding": {"x": {"field": "w", "type": "quantitative", "axis": null}, "y": {"field": "f", "type": "quantitative", "axis": null}, "text": {"field": "t", "type": "nominal"}}}
 ]
},
{
 "width": 551, "height": 125,
 "resolve": {"axis": {"x": "independent", "y": "independent"}},
 "layer": [
  {"data": {"name": "o2"}, "mark": {"type": "line", "strokeWidth": 1.4, "color": "gray"},
   "encoding": {
    "x": {"field": "w", "type": "quantitative", "scale": {"domain": [3200, 12480], "nice": false, "zero": false},
      "axis": {"orient": "bottom", "labels": false, "title": null, "values": [3300,3400,3500,3600,3700,3800,3900,4000,4100,4200,4300,4400,4500,4600,4700,4800,4900,5000,5100,5200,5300,5400,5500,5600,5700,5800,5900,6000,6100,6200,6300,6400,6500,6600,6700,6800,6900,7000,7100,7200,7300,7400,7500,7600,7700,7800,7900,8000,8100,8200,8300,8400,8500,8600,8700,8800,8900,9000,9100,9200,9300,9400,9500,9600,9700,9800,9900,10000,10100,10200,10300,10400,10500,10600,10700,10800,10900,11000,11100,11200,11300,11400,11500,11600,11700,11800,11900,12000,12100,12200,12300,12400], "tickSize": {"condition": {"test": "datum.value % 2000 === 0", "value": -7}, "value": -3.5}}},
    "y": {"field": "f", "type": "quantitative", "scale": {"domain": [-0.04, 5.05], "nice": false, "zero": false},
      "axis": {"orient": "left", "values": [0, 2, 4], "format": "d", "tickSize": -5, "labelPadding": 10, "title": null}}
   }},
  {"data": {"name": "s2"}, "mark": {"type": "line", "strokeWidth": 2, "color": "red", "interpolate": "monotone"},
   "encoding": {
    "x": {"field": "w", "type": "quantitative", "axis": {"orient": "top", "labels": false, "title": null, "values": [3300,3400,3500,3600,3700,3800,3900,4000,4100,4200,4300,4400,4500,4600,4700,4800,4900,5000,5100,5200,5300,5400,5500,5600,5700,5800,5900,6000,6100,6200,6300,6400,6500,6600,6700,6800,6900,7000,7100,7200,7300,7400,7500,7600,7700,7800,7900,8000,8100,8200,8300,8400,8500,8600,8700,8800,8900,9000,9100,9200,9300,9400,9500,9600,9700,9800,9900,10000,10100,10200,10300,10400,10500,10600,10700,10800,10900,11000,11100,11200,11300,11400,11500,11600,11700,11800,11900,12000,12100,12200,12300,12400], "tickSize": {"condition": {"test": "datum.value % 2000 === 0", "value": -7}, "value": -3.5}}},
    "y": {"field": "f", "type": "quantitative", "axis": {"orient": "right", "labels": false, "title": null, "values": [0, 2, 4], "tickSize": -5}}
   }},
  {"data": {"name": "bands"}, "mark": {"type": "rect", "color": "violet", "opacity": 0.5},
   "encoding": {"x": {"field": "a", "type": "quantitative", "axis": null}, "x2": {"field": "b"}}},
  {"data": {"values": [{"t": "-2d", "w": 11026, "f": 1.25}]}, "mark": {"type": "text", "fontSize": 16, "align": "left", "baseline": "middle", "color": "black"},
   "encoding": {"x": {"field": "w", "type": "quantitative", "axis": null}, "y": {"field": "f", "type": "quantitative", "axis": null}, "text": {"field": "t", "type": "nominal"}}}
 ]
},
{
 "width": 551, "height": 126,
 "resolve": {"axis": {"x": "independent", "y": "independent"}},
 "layer": [
  {"data": {"name": "o3"}, "mark": {"type": "line", "strokeWidth": 1.4, "color": "gray"},
   "encoding": {
    "x": {"field": "w", "type": "quantitative", "scale": {"domain": [3200, 12480], "nice": false, "zero": false},
      "axis": {"orient": "bottom", "labels": false, "title": null, "values": [3300,3400,3500,3600,3700,3800,3900,4000,4100,4200,4300,4400,4500,4600,4700,4800,4900,5000,5100,5200,5300,5400,5500,5600,5700,5800,5900,6000,6100,6200,6300,6400,6500,6600,6700,6800,6900,7000,7100,7200,7300,7400,7500,7600,7700,7800,7900,8000,8100,8200,8300,8400,8500,8600,8700,8800,8900,9000,9100,9200,9300,9400,9500,9600,9700,9800,9900,10000,10100,10200,10300,10400,10500,10600,10700,10800,10900,11000,11100,11200,11300,11400,11500,11600,11700,11800,11900,12000,12100,12200,12300,12400], "tickSize": {"condition": {"test": "datum.value % 2000 === 0", "value": -7}, "value": -3.5}}},
    "y": {"field": "f", "type": "quantitative", "scale": {"domain": [0.13, 5.55], "nice": false, "zero": false},
      "axis": {"orient": "left", "values": [2, 4], "format": "d", "tickSize": -5, "labelPadding": 10, "title": "Normalised flux density (Fλ) + const.", "titleX": -45, "titleY": 63, "titleAngle": 270, "titleAlign": "center", "titleBaseline": "bottom"}}
   }},
  {"data": {"name": "s3"}, "mark": {"type": "line", "strokeWidth": 2, "color": "red", "interpolate": "monotone"},
   "encoding": {
    "x": {"field": "w", "type": "quantitative", "axis": {"orient": "top", "labels": false, "title": null, "values": [3300,3400,3500,3600,3700,3800,3900,4000,4100,4200,4300,4400,4500,4600,4700,4800,4900,5000,5100,5200,5300,5400,5500,5600,5700,5800,5900,6000,6100,6200,6300,6400,6500,6600,6700,6800,6900,7000,7100,7200,7300,7400,7500,7600,7700,7800,7900,8000,8100,8200,8300,8400,8500,8600,8700,8800,8900,9000,9100,9200,9300,9400,9500,9600,9700,9800,9900,10000,10100,10200,10300,10400,10500,10600,10700,10800,10900,11000,11100,11200,11300,11400,11500,11600,11700,11800,11900,12000,12100,12200,12300,12400], "tickSize": {"condition": {"test": "datum.value % 2000 === 0", "value": -7}, "value": -3.5}}},
    "y": {"field": "f", "type": "quantitative", "axis": {"orient": "right", "labels": false, "title": null, "values": [2, 4], "tickSize": -5}}
   }},
  {"data": {"name": "bands"}, "mark": {"type": "rect", "color": "violet", "opacity": 0.5},
   "encoding": {"x": {"field": "a", "type": "quantitative", "axis": null}, "x2": {"field": "b"}}},
  {"data": {"values": [{"t": "+4d", "w": 11026, "f": 2.03}]}, "mark": {"type": "text", "fontSize": 16, "align": "left", "baseline": "middle", "color": "black"},
   "encoding": {"x": {"field": "w", "type": "quantitative", "axis": null}, "y": {"field": "f", "type": "quantitative", "axis": null}, "text": {"field": "t", "type": "nominal"}}}
 ]
},
{
 "width": 551, "height": 126,
 "resolve": {"axis": {"x": "independent", "y": "independent"}},
 "layer": [
  {"data": {"name": "o4"}, "mark": {"type": "line", "strokeWidth": 1.4, "color": "gray"},
   "encoding": {
    "x": {"field": "w", "type": "quantitative", "scale": {"domain": [3200, 12480], "nice": false, "zero": false},
      "axis": {"orient": "bottom", "labels": false, "title": null, "values": [3300,3400,3500,3600,3700,3800,3900,4000,4100,4200,4300,4400,4500,4600,4700,4800,4900,5000,5100,5200,5300,5400,5500,5600,5700,5800,5900,6000,6100,6200,6300,6400,6500,6600,6700,6800,6900,7000,7100,7200,7300,7400,7500,7600,7700,7800,7900,8000,8100,8200,8300,8400,8500,8600,8700,8800,8900,9000,9100,9200,9300,9400,9500,9600,9700,9800,9900,10000,10100,10200,10300,10400,10500,10600,10700,10800,10900,11000,11100,11200,11300,11400,11500,11600,11700,11800,11900,12000,12100,12200,12300,12400], "tickSize": {"condition": {"test": "datum.value % 2000 === 0", "value": -7}, "value": -3.5}}},
    "y": {"field": "f", "type": "quantitative", "scale": {"domain": [-0.093, 0.805], "nice": false, "zero": false},
      "axis": {"orient": "left", "values": [0, 0.25, 0.5, 0.75], "format": ".2f", "tickSize": -5, "labelPadding": 10, "title": null}}
   }},
  {"data": {"name": "s4"}, "mark": {"type": "line", "strokeWidth": 2, "color": "red", "interpolate": "monotone"},
   "encoding": {
    "x": {"field": "w", "type": "quantitative", "axis": {"orient": "top", "labels": false, "title": null, "values": [3300,3400,3500,3600,3700,3800,3900,4000,4100,4200,4300,4400,4500,4600,4700,4800,4900,5000,5100,5200,5300,5400,5500,5600,5700,5800,5900,6000,6100,6200,6300,6400,6500,6600,6700,6800,6900,7000,7100,7200,7300,7400,7500,7600,7700,7800,7900,8000,8100,8200,8300,8400,8500,8600,8700,8800,8900,9000,9100,9200,9300,9400,9500,9600,9700,9800,9900,10000,10100,10200,10300,10400,10500,10600,10700,10800,10900,11000,11100,11200,11300,11400,11500,11600,11700,11800,11900,12000,12100,12200,12300,12400], "tickSize": {"condition": {"test": "datum.value % 2000 === 0", "value": -7}, "value": -3.5}}},
    "y": {"field": "f", "type": "quantitative", "axis": {"orient": "right", "labels": false, "title": null, "values": [0, 0.25, 0.5, 0.75], "tickSize": -5}}
   }},
  {"data": {"name": "bands"}, "mark": {"type": "rect", "color": "violet", "opacity": 0.5},
   "encoding": {"x": {"field": "a", "type": "quantitative", "axis": null}, "x2": {"field": "b"}}},
  {"data": {"values": [{"t": "+22d", "w": 11026, "f": 0.44}]}, "mark": {"type": "text", "fontSize": 16, "align": "left", "baseline": "middle", "color": "black"},
   "encoding": {"x": {"field": "w", "type": "quantitative", "axis": null}, "y": {"field": "f", "type": "quantitative", "axis": null}, "text": {"field": "t", "type": "nominal"}}}
 ]
},
{
 "width": 551, "height": 126,
 "resolve": {"axis": {"x": "independent", "y": "independent"}},
 "layer": [
  {"data": {"name": "o5"}, "mark": {"type": "line", "strokeWidth": 1.4, "color": "gray"},
   "encoding": {
    "x": {"field": "w", "type": "quantitative", "scale": {"domain": [3200, 12480], "nice": false, "zero": false},
      "axis": {"orient": "bottom", "title": "Rest wavelength (Å)", "titlePadding": 8, "format": "d", "labelPadding": 10, "labelExpr": "datum.value % 2000 === 0 ? datum.label : ''", "values": [3300,3400,3500,3600,3700,3800,3900,4000,4100,4200,4300,4400,4500,4600,4700,4800,4900,5000,5100,5200,5300,5400,5500,5600,5700,5800,5900,6000,6100,6200,6300,6400,6500,6600,6700,6800,6900,7000,7100,7200,7300,7400,7500,7600,7700,7800,7900,8000,8100,8200,8300,8400,8500,8600,8700,8800,8900,9000,9100,9200,9300,9400,9500,9600,9700,9800,9900,10000,10100,10200,10300,10400,10500,10600,10700,10800,10900,11000,11100,11200,11300,11400,11500,11600,11700,11800,11900,12000,12100,12200,12300,12400], "tickSize": {"condition": {"test": "datum.value % 2000 === 0", "value": -7}, "value": -3.5}}},
    "y": {"field": "f", "type": "quantitative", "scale": {"domain": [-0.099, 0.609], "nice": false, "zero": false},
      "axis": {"orient": "left", "values": [0, 0.2, 0.4, 0.6], "format": ".1f", "tickSize": -5, "labelPadding": 10, "title": null}}
   }},
  {"data": {"name": "s5"}, "mark": {"type": "line", "strokeWidth": 2, "color": "red", "interpolate": "monotone"},
   "encoding": {
    "x": {"field": "w", "type": "quantitative", "axis": {"orient": "top", "labels": false, "title": null, "values": [3300,3400,3500,3600,3700,3800,3900,4000,4100,4200,4300,4400,4500,4600,4700,4800,4900,5000,5100,5200,5300,5400,5500,5600,5700,5800,5900,6000,6100,6200,6300,6400,6500,6600,6700,6800,6900,7000,7100,7200,7300,7400,7500,7600,7700,7800,7900,8000,8100,8200,8300,8400,8500,8600,8700,8800,8900,9000,9100,9200,9300,9400,9500,9600,9700,9800,9900,10000,10100,10200,10300,10400,10500,10600,10700,10800,10900,11000,11100,11200,11300,11400,11500,11600,11700,11800,11900,12000,12100,12200,12300,12400], "tickSize": {"condition": {"test": "datum.value % 2000 === 0", "value": -7}, "value": -3.5}}},
    "y": {"field": "f", "type": "quantitative", "axis": {"orient": "right", "labels": false, "title": null, "values": [0, 0.2, 0.4, 0.6], "tickSize": -5}}
   }},
  {"data": {"name": "bands"}, "mark": {"type": "rect", "color": "violet", "opacity": 0.5},
   "encoding": {"x": {"field": "a", "type": "quantitative", "axis": null}, "x2": {"field": "b"}}},
  {"data": {"values": [{"t": "+33d", "w": 11026, "f": 0.234}]}, "mark": {"type": "text", "fontSize": 16, "align": "left", "baseline": "middle", "color": "black"},
   "encoding": {"x": {"field": "w", "type": "quantitative", "axis": null}, "y": {"field": "f", "type": "quantitative", "axis": null}, "text": {"field": "t", "type": "nominal"}}}
 ]
}
]
}
